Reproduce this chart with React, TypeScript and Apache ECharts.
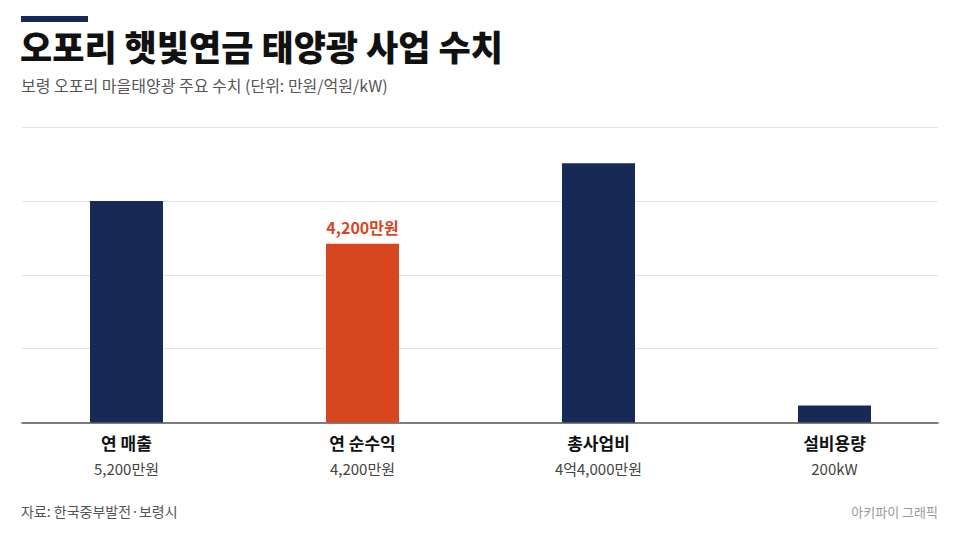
import { useEffect, useRef } from "react";
import * as echarts from "echarts";

// bar heights in chart units (one unit = one gridline step)
const categories = ["연 매출", "연 순수익", "총사업비", "설비용량"];
const valueLabels = ["5,200만원", "4,200만원", "4억4,000만원", "200kW"];
const barHeights = [3.0, 2.42, 3.51, 0.23];
const highlightIndex = 1;

const FONT = "'Noto Sans CJK KR', 'Noto Sans', sans-serif";
const NAVY = "#172a56";
const ORANGE = "#d8461f";

function App() {
  const chartRef = useRef<HTMLDivElement>(null);

  useEffect(() => {
    const chart = echarts.init(chartRef.current, null, { renderer: "svg" });

    const option = {
      animation: false,
      backgroundColor: "#ffffff",
      textStyle: { fontFamily: FONT },
      graphic: [
        {
          type: "rect",
          left: 21,
          top: 16,
          shape: { width: 67, height: 6 },
          style: { fill: NAVY },
        },
        {
          type: "text",
          left: 20,
          top: 28,
          style: {
            text: "오포리 햇빛연금 태양광 사업 수치",
            font: `900 35px ${FONT}`,
            fill: "#111111",
          },
        },
        {
          type: "text",
          left: 21,
          top: 77,
          style: {
            text: "보령 오포리 마을태양광 주요 수치 (단위: 만원/억원/kW)",
            font: `16px ${FONT}`,
            fill: "#555555",
          },
        },
        {
          type: "text",
          left: 21,
          top: 504,
          style: {
            text: "자료: 한국중부발전·보령시",
            font: `14px ${FONT}`,
            fill: "#555555",
          },
        },
        {
          type: "text",
          right: 22,
          top: 505,
          style: {
            text: "아키파이 그래픽",
            font: `13px ${FONT}`,
            fill: "#999999",
          },
        },
      ],
      grid: [
        { left: 22, right: 22, top: 127, bottom: 117.5 },
        { left: 8.5, width: 944, top: 127, bottom: 117.5 },
      ],
      xAxis: [
        {
          type: "category",
          gridIndex: 0,
          data: categories,
          axisLine: { show: true, lineStyle: { color: "#555555", width: 1.5 } },
          axisTick: { show: false },
          axisLabel: { show: false },
        },
        {
          type: "category",
          gridIndex: 1,
          data: categories,
          axisLine: { show: false },
          axisTick: { show: false },
          axisLabel: {
            margin: 7,
            formatter: (name: string, i: number) =>
              `{n|${name}}\n{v|${valueLabels[i]}}`,
            rich: {
              n: {
                fontFamily: FONT,
                fontSize: 17,
                fontWeight: "bold",
                color: "#111111",
                lineHeight: 26,
              },
              v: {
                fontFamily: FONT,
                fontSize: 15,
                color: "#444444",
                lineHeight: 26,
              },
            },
          },
        },
      ],
      yAxis: [
        {
          type: "value",
          gridIndex: 0,
          min: 0,
          max: 4,
          interval: 1,
          axisLabel: { show: false },
          axisLine: { show: false },
          axisTick: { show: false },
          splitLine: { lineStyle: { color: "#e3e3e3", width: 1 } },
        },
        {
          type: "value",
          gridIndex: 1,
          min: 0,
          max: 4,
          interval: 1,
          show: false,
          splitLine: { show: false },
        },
      ],
      series: [
        {
          type: "bar",
          xAxisIndex: 1,
          yAxisIndex: 1,
          barWidth: 73,
          data: barHeights.map((v, i) => ({
            value: v,
            itemStyle: { color: i === highlightIndex ? ORANGE : NAVY },
            label: {
              show: i === highlightIndex,
              position: "top",
              distance: 9,
              formatter: valueLabels[i],
              fontFamily: FONT,
              fontSize: 16,
              fontWeight: "bold",
              color: ORANGE,
            },
          })),
        },
      ],
    };

    chart.setOption(option);

    return () => {
      chart.dispose();
    };
  }, []);

  return (
    <div
      ref={chartRef}
      style={{ width: "960px", height: "540px", position: "absolute", left: 0, top: 0 }}
    />
  );
}

export default App;
